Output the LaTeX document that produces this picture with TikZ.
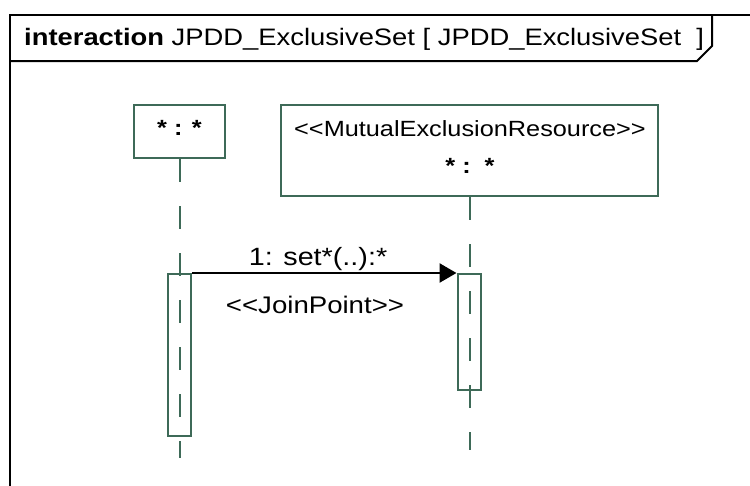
\documentclass[tikz,border=0pt]{standalone}
\usepackage{fontspec}
\setmainfont{Liberation Sans}[FakeStretch=1.15, Ligatures=TeXOff]
\usetikzlibrary{arrows.meta}
\definecolor{lifegreen}{RGB}{62,106,88}

\begin{document}
\begin{tikzpicture}[x=1pt, y=-1pt,
        lifehead/.style={draw=lifegreen, line width=2pt, inner sep=0pt},
        activation/.style={draw=lifegreen, line width=2pt, inner sep=0pt, minimum width=23pt},
        lifeline/.style={draw=lifegreen, line width=2pt, dash pattern=on 23pt off 24pt},
        msg/.style={line width=2.5pt, -{Triangle[length=17pt, width=19pt]}},
        every node/.style={inner sep=0pt}]
    \useasboundingbox (0,0) rectangle (750,485);
    % frame and header tab
    \draw[line width=2pt] (10,500) -- (10,15) -- (760,15);
    \draw[line width=2pt] (10,61) -- (697,61) -- (712,46) -- (712,15);
    \node[anchor=base west, font=\fontsize{23.8}{24}\selectfont] (title) at (24,45)
        {\textbf{interaction} JPDD\_ExclusiveSet [ JPDD\_ExclusiveSet\ \ ]};
    % lifeline heads
    \node[lifehead, minimum width=91pt, minimum height=53pt] (objA) at (179.5,131.5) {};
    \node[lifehead, minimum width=377pt, minimum height=91pt] (objB) at (469.5,150.5) {};
    \node[anchor=base, font=\fontsize{22}{22}\selectfont\bfseries] (nameA) at (179.5,135) {* : *};
    \node[anchor=base, font=\fontsize{22}{22}\selectfont] (stereoB) at (470,136) {<<MutualExclusionResource>>};
    \node[anchor=base, font=\fontsize{22}{22}\selectfont\bfseries] (nameB) at (470,173) {* :\ \ *};
    % lifelines
    \coordinate (endA) at (179.5,458);
    \coordinate (endB) at (469.5,450);
    \draw[lifeline] (objA.south) -- (endA);
    \draw[lifeline] (objB.south) -- (endB);
    % activations
    \node[activation, minimum height=162pt] (actA) at (179.5,355) {};
    \node[activation, minimum height=116pt] (actB) at (469,332) {};
    % message
    \draw[msg] (actA.north east) -- (actB.north west);
    \node[anchor=base, font=\fontsize{25}{25}\selectfont] (msgA) at (318,265) {1: set*(..):*};
    \node[anchor=base, font=\fontsize{24}{24}\selectfont] (joinA) at (315,313) {<<JoinPoint>>};
\end{tikzpicture}
\end{document}
